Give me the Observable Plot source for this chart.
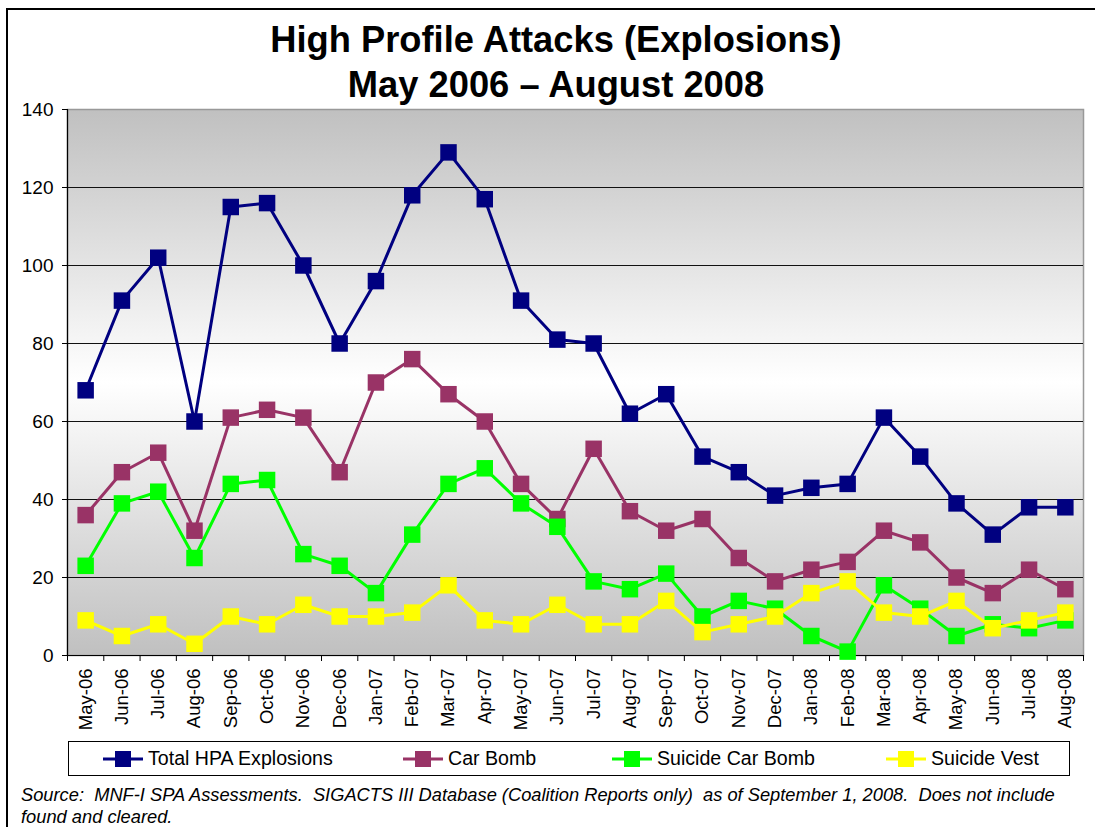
<!DOCTYPE html>
<html>
<head>
<meta charset="utf-8">
<script src="https://cdn.jsdelivr.net/npm/d3@7"></script>
<script src="https://cdn.jsdelivr.net/npm/@observablehq/plot@0.6"></script>
<style>
  html, body { margin: 0; padding: 0; background: #fff; }
  #wrap { position: relative; width: 1095px; height: 827px; overflow: hidden; font-family: Arial, "Liberation Sans", sans-serif; }
  #frame { position: absolute; left: 6px; top: 8px; width: 1200px; height: 900px; border: 2px solid #000; }
  #title { position: absolute; left: 0; top: 17px; width: 1112px; text-align: center; font-weight: bold; font-size: 36.3px; line-height: 45px; color: #000; }
  #chart { position: absolute; left: 0; top: 100px; }
  #legend { position: absolute; left: 68px; top: 741px; width: 1000px; height: 33px; border: 1px solid #000; background: #fff; }
  .li { position: absolute; top: 0; height: 33px; display: flex; align-items: center; font-size: 19.6px; color: #000; }
  .li svg { margin-right: 4px; }
  #caption { position: absolute; left: 21px; top: 784px; font-style: italic; font-size: 18.3px; line-height: 22px; white-space: pre; color: #000; }
</style>
</head>
<body>
<div id="wrap">
  <div id="frame"></div>
  <div id="title">High Profile Attacks (Explosions)<br>May 2006 – August 2008</div>
  <div id="chart"></div>
  <div id="legend"></div>
  <div id="caption"></div>
</div>
<script>
// ---- data ----
const months = ["May-06","Jun-06","Jul-06","Aug-06","Sep-06","Oct-06","Nov-06","Dec-06",
  "Jan-07","Feb-07","Mar-07","Apr-07","May-07","Jun-07","Jul-07","Aug-07","Sep-07","Oct-07","Nov-07","Dec-07",
  "Jan-08","Feb-08","Mar-08","Apr-08","May-08","Jun-08","Jul-08","Aug-08"];
const totalHPA = [68,91,102,60,115,116,100,80,96,118,129,117,91,81,80,62,67,51,47,41,43,44,61,51,39,31,38,38];
const carBomb = [36,47,52,32,61,63,61,47,70,76,67,60,44,35,53,37,32,35,25,19,22,24,32,29,20,16,22,17];
const suicideCarBomb = [23,39,42,25,44,45,26,23,16,31,44,48,39,33,19,17,21,10,14,12,5,1,18,12,5,8,7,9];
const suicideVest = [9,5,8,3,10,8,13,10,10,11,18,9,8,13,8,8,14,6,8,10,16,19,11,10,14,7,9,11];
const seriesNames = ["Total HPA Explosions","Car Bomb","Suicide Car Bomb","Suicide Vest"];
const seriesColors = ["#000080","#993366","#00ff00","#ffff00"];
const yTicks = [0,20,40,60,80,100,120,140];
const captionLines = ["Source:  MNF-I SPA Assessments.  SIGACTS III Database (Coalition Reports only)  as of September 1, 2008.  Does not include",
  "found and cleared."];

const seriesValues = [totalHPA, carBomb, suicideCarBomb, suicideVest];
const data = [];
seriesNames.forEach((s, k) => seriesValues[k].forEach((v, i) => data.push({series: s, i, month: months[i], value: v})));

// background gradient mark
function gradientBg(index, scales, values, dim) {
  const g = d3.create("svg:g");
  const defs = g.append("defs");
  const lg = defs.append("linearGradient").attr("id", "bggrad").attr("x1", 0).attr("y1", 0).attr("x2", 0).attr("y2", 1);
  lg.append("stop").attr("offset", "0%").attr("stop-color", "#c0c0c0");
  lg.append("stop").attr("offset", "50%").attr("stop-color", "#ffffff");
  lg.append("stop").attr("offset", "100%").attr("stop-color", "#c0c0c0");
  g.append("rect")
    .attr("x", dim.marginLeft).attr("y", dim.marginTop)
    .attr("width", dim.width - dim.marginLeft - dim.marginRight)
    .attr("height", dim.height - dim.marginTop - dim.marginBottom)
    .attr("fill", "url(#bggrad)");
  return g.node();
}

const marks = [
  gradientBg,
  Plot.frame({stroke: "#999", strokeWidth: 1.5}),
  Plot.ruleY(yTicks.filter(t => t > 0 && t < 140), {stroke: "#111", strokeWidth: 1}),
  Plot.ruleY([0], {stroke: "#000", strokeWidth: 1.2}),
  Plot.ruleX([-0.5], {stroke: "#000", strokeWidth: 1.2}),
  Plot.axisY({ticks: yTicks, tickSize: 5, tickPadding: 9, fontSize: 19, anchor: "left", label: null}),
  Plot.axisX({ticks: d3.range(-0.5, 28, 1), tickSize: 6, tickFormat: () => "", label: null}),
  Plot.axisX({ticks: d3.range(0, 28), tickSize: 0, tickPadding: 13, tickRotate: -90, fontSize: 18.5,
    tickFormat: i => months[i], label: null})
];
seriesNames.forEach(s => {
  const sub = data.filter(d => d.series === s);
  marks.push(Plot.line(sub, {x: "i", y: "value", stroke: "series", strokeWidth: 3}));
  marks.push(Plot.dot(sub, {x: "i", y: "value", fill: "series", symbol: "square", r: 9.3, stroke: "none"}));
});

const chart = Plot.plot({
  width: 1095,
  height: 640,
  marginTop: 9,
  marginLeft: 67,
  marginRight: 12,
  marginBottom: 85,
  style: {background: "transparent", fontFamily: "Arial, 'Liberation Sans', sans-serif", color: "#000"},
  x: {type: "linear", domain: [-0.5, 27.5]},
  y: {domain: [0, 140]},
  color: {domain: seriesNames, range: seriesColors},
  marks
});
document.getElementById("chart").appendChild(chart);

// legend
const legendPos = [[33, 148], [333, 447], [542, 657], [816, 931]];
const legend = document.getElementById("legend");
seriesNames.forEach((s, k) => {
  const item = document.createElement("div");
  item.className = "li";
  item.style.left = legendPos[k][0] + "px";
  const sw = d3.create("svg").attr("width", 42).attr("height", 20);
  sw.append("line").attr("x1", 1).attr("x2", 41).attr("y1", 10).attr("y2", 10).attr("stroke", seriesColors[k]).attr("stroke-width", 3);
  sw.append("rect").attr("x", 13).attr("y", 2).attr("width", 16).attr("height", 16).attr("fill", seriesColors[k]);
  item.appendChild(sw.node());
  const t = document.createElement("span");
  t.textContent = s;
  item.appendChild(t);
  legend.appendChild(item);
});

document.getElementById("caption").textContent = captionLines.join("\n");
</script>
</body>
</html>
